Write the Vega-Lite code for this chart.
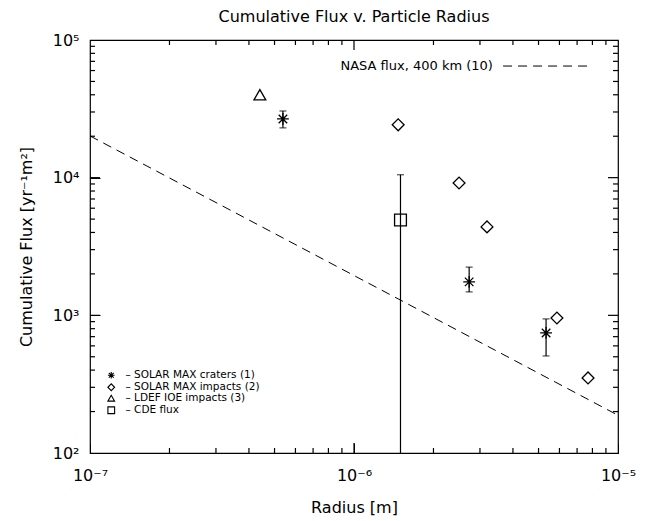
{
  "$schema": "https://vega.github.io/schema/vega-lite/v6.json",
  "width": 528,
  "height": 413,
  "autosize": {"type": "none"},
  "padding": {"left": 90, "top": 40, "right": 31, "bottom": 68},
  "background": "white",
  "title": {"text": "Cumulative Flux v. Particle Radius", "fontSize": 16, "fontWeight": "normal", "font": "DejaVu Sans", "anchor": "middle", "offset": 7, "color": "black"},
  "config": {
    "font": "DejaVu Sans",
    "view": {"stroke": "black", "strokeWidth": 1.2},
    "axis": {"domainColor": "black", "tickColor": "black", "labelColor": "black", "titleColor": "black", "grid": false, "domain": false}
  },
  "datasets": {
    "nasa": [
      {"x": 1e-7, "y": 20100},
      {"x": 1.5e-6, "y": 1290},
      {"x": 1e-5, "y": 188}
    ],
    "obs": [
      {"series": "SOLAR MAX craters (1)", "x": 5.38e-7, "y": 26700, "lo": 23000, "hi": 30500},
      {"series": "SOLAR MAX craters (1)", "x": 2.73e-6, "y": 1750, "lo": 1480, "hi": 2240},
      {"series": "SOLAR MAX craters (1)", "x": 5.34e-6, "y": 745, "lo": 507, "hi": 942},
      {"series": "SOLAR MAX impacts (2)", "x": 1.47e-6, "y": 24200},
      {"series": "SOLAR MAX impacts (2)", "x": 2.5e-6, "y": 9150},
      {"series": "SOLAR MAX impacts (2)", "x": 3.19e-6, "y": 4390},
      {"series": "SOLAR MAX impacts (2)", "x": 5.87e-6, "y": 957},
      {"series": "SOLAR MAX impacts (2)", "x": 7.7e-6, "y": 351},
      {"series": "LDEF IOE impacts (3)", "x": 4.4e-7, "y": 40000},
      {"series": "CDE flux", "x": 1.5e-6, "y": 4930, "lo": 100, "hi": 10500}
    ],
    "key": [
      {"label": "NASA flux, 400 km (10)", "x": 3.36e-6, "x2": 3.67e-6, "x3": 8.04e-6, "y": 64700}
    ],
    "xticks": [
      {"v": 2e-7, "kind": "minor", "lo": 100, "hi": 100000}, {"v": 3e-7, "kind": "minor", "lo": 100, "hi": 100000},
      {"v": 4e-7, "kind": "minor", "lo": 100, "hi": 100000}, {"v": 5e-7, "kind": "minor", "lo": 100, "hi": 100000},
      {"v": 6e-7, "kind": "minor", "lo": 100, "hi": 100000}, {"v": 7e-7, "kind": "minor", "lo": 100, "hi": 100000},
      {"v": 8e-7, "kind": "minor", "lo": 100, "hi": 100000}, {"v": 9e-7, "kind": "minor", "lo": 100, "hi": 100000},
      {"v": 1e-6, "kind": "major", "lo": 100, "hi": 100000},
      {"v": 2e-6, "kind": "minor", "lo": 100, "hi": 100000}, {"v": 3e-6, "kind": "minor", "lo": 100, "hi": 100000},
      {"v": 4e-6, "kind": "minor", "lo": 100, "hi": 100000}, {"v": 5e-6, "kind": "minor", "lo": 100, "hi": 100000},
      {"v": 6e-6, "kind": "minor", "lo": 100, "hi": 100000}, {"v": 7e-6, "kind": "minor", "lo": 100, "hi": 100000},
      {"v": 8e-6, "kind": "minor", "lo": 100, "hi": 100000}, {"v": 9e-6, "kind": "minor", "lo": 100, "hi": 100000}
    ],
    "yticks": [
      {"v": 200, "kind": "minor", "lo": 1e-7, "hi": 1e-5}, {"v": 300, "kind": "minor", "lo": 1e-7, "hi": 1e-5},
      {"v": 400, "kind": "minor", "lo": 1e-7, "hi": 1e-5}, {"v": 500, "kind": "minor", "lo": 1e-7, "hi": 1e-5},
      {"v": 600, "kind": "minor", "lo": 1e-7, "hi": 1e-5}, {"v": 700, "kind": "minor", "lo": 1e-7, "hi": 1e-5},
      {"v": 800, "kind": "minor", "lo": 1e-7, "hi": 1e-5}, {"v": 900, "kind": "minor", "lo": 1e-7, "hi": 1e-5},
      {"v": 1000, "kind": "major", "lo": 1e-7, "hi": 1e-5},
      {"v": 2000, "kind": "minor", "lo": 1e-7, "hi": 1e-5}, {"v": 3000, "kind": "minor", "lo": 1e-7, "hi": 1e-5},
      {"v": 4000, "kind": "minor", "lo": 1e-7, "hi": 1e-5}, {"v": 5000, "kind": "minor", "lo": 1e-7, "hi": 1e-5},
      {"v": 6000, "kind": "minor", "lo": 1e-7, "hi": 1e-5}, {"v": 7000, "kind": "minor", "lo": 1e-7, "hi": 1e-5},
      {"v": 8000, "kind": "minor", "lo": 1e-7, "hi": 1e-5}, {"v": 9000, "kind": "minor", "lo": 1e-7, "hi": 1e-5},
      {"v": 10000, "kind": "major", "lo": 1e-7, "hi": 1e-5},
      {"v": 20000, "kind": "minor", "lo": 1e-7, "hi": 1e-5}, {"v": 30000, "kind": "minor", "lo": 1e-7, "hi": 1e-5},
      {"v": 40000, "kind": "minor", "lo": 1e-7, "hi": 1e-5}, {"v": 50000, "kind": "minor", "lo": 1e-7, "hi": 1e-5},
      {"v": 60000, "kind": "minor", "lo": 1e-7, "hi": 1e-5}, {"v": 70000, "kind": "minor", "lo": 1e-7, "hi": 1e-5},
      {"v": 80000, "kind": "minor", "lo": 1e-7, "hi": 1e-5}, {"v": 90000, "kind": "minor", "lo": 1e-7, "hi": 1e-5}
    ]
  },
  "encoding": {
    "x": {"field": "x", "type": "quantitative", "scale": {"type": "log", "domain": [1e-7, 1e-5]}, "axis": null},
    "y": {"field": "y", "type": "quantitative", "scale": {"type": "log", "domain": [100, 100000]}, "axis": null}
  },
  "layer": [
    {
      "data": {"name": "nasa"},
      "mark": {"type": "line", "color": "black", "strokeWidth": 1, "strokeDash": [9, 6], "clip": true},
      "encoding": {
        "x": {"field": "x", "type": "quantitative", "scale": {"type": "log", "domain": [1e-7, 1e-5]},
          "axis": {"orient": "bottom", "title": "Radius [m]", "titleFontSize": 16, "titleFontWeight": "normal", "titlePadding": 16,
            "values": [1e-7, 1e-6, 1e-5], "offset": -10, "ticks": true, "tickSize": 10, "tickColor": "black",
            "labelExpr": "datum.value < 1.5e-7 ? '10⁻⁷' : (datum.value < 1.5e-6 ? '10⁻⁶' : '10⁻⁵')",
            "labelFontSize": 16, "labelPadding": 14, "labelOverlap": false, "labelFlush": false, "labelBound": false}},
        "y": {"field": "y", "type": "quantitative", "scale": {"type": "log", "domain": [100, 100000]},
          "axis": {"orient": "left", "title": "Cumulative Flux [yr⁻¹m²]", "titleFontSize": 16, "titleFontWeight": "normal", "titlePadding": 18,
            "values": [100, 1000, 10000, 100000], "offset": -10, "ticks": true, "tickSize": 10, "tickColor": "black",
            "labelExpr": "datum.value < 500 ? '10²' : (datum.value < 5000 ? '10³' : (datum.value < 50000 ? '10⁴' : '10⁵'))",
            "labelFontSize": 16, "labelPadding": 11, "labelOverlap": false, "labelFlush": false, "labelBound": false}}
      }
    },
    {
      "data": {"name": "obs"},
      "transform": [{"filter": "isValid(datum.lo)"}],
      "mark": {"type": "rule", "color": "black", "strokeWidth": 1.2},
      "encoding": {
        "y": {"field": "lo", "type": "quantitative", "axis": null},
        "y2": {"field": "hi"}
      }
    },
    {
      "data": {"name": "obs"},
      "transform": [{"filter": "isValid(datum.hi)"}],
      "mark": {"type": "tick", "orient": "horizontal", "color": "black", "size": 7, "thickness": 1.2},
      "encoding": {
        "y": {"field": "hi", "type": "quantitative", "axis": null}
      }
    },
    {
      "data": {"name": "obs"},
      "transform": [{"filter": "isValid(datum.lo) && datum.lo > 100"}],
      "mark": {"type": "tick", "orient": "horizontal", "color": "black", "size": 7, "thickness": 1.2},
      "encoding": {
        "y": {"field": "lo", "type": "quantitative", "axis": null}
      }
    },
    {
      "data": {"name": "obs"},
      "mark": {"type": "point", "filled": false, "color": "black", "strokeWidth": 1.3, "size": 140, "opacity": 1},
      "encoding": {
        "shape": {"field": "series", "type": "nominal",
          "scale": {"domain": ["SOLAR MAX craters (1)", "SOLAR MAX impacts (2)", "LDEF IOE impacts (3)", "CDE flux"],
            "range": ["M-1,0L1,0M0,-1L0,1M-0.72,-0.72L0.72,0.72M-0.72,0.72L0.72,-0.72", "diamond", "triangle-up", "square"]},
          "legend": {"orient": "none", "legendX": 16, "legendY": 330, "title": null, "padding": 0,
            "symbolSize": 45, "symbolStrokeColor": "black", "symbolStrokeWidth": 1.1, "symbolFillColor": "transparent",
            "labelFontSize": 10.5, "labelFont": "DejaVu Sans", "labelColor": "black", "labelOffset": 9, "rowPadding": 0,
            "labelExpr": "'–  ' + datum.label"}}
      }
    },
    {
      "data": {"name": "key"},
      "mark": {"type": "text", "align": "right", "baseline": "middle", "fontSize": 13, "font": "DejaVu Sans", "color": "black"},
      "encoding": {"text": {"field": "label"}}
    },
    {
      "data": {"name": "key"},
      "mark": {"type": "rule", "color": "black", "strokeWidth": 1, "strokeDash": [9, 6]},
      "encoding": {"x": {"field": "x2", "type": "quantitative", "axis": null}, "x2": {"field": "x3"}}
    },
    {
      "data": {"name": "xticks"},
      "transform": [{"filter": "datum.kind == 'major'"}],
      "mark": {"type": "rule", "color": "black", "strokeWidth": 1.2, "y2Offset": -10},
      "encoding": {"x": {"field": "v", "type": "quantitative", "axis": null}, "y": {"field": "lo", "type": "quantitative", "axis": null}, "y2": {"field": "lo"}}
    },
    {
      "data": {"name": "xticks"},
      "transform": [{"filter": "datum.kind == 'minor'"}],
      "mark": {"type": "rule", "color": "black", "strokeWidth": 1.2, "y2Offset": -5},
      "encoding": {"x": {"field": "v", "type": "quantitative", "axis": null}, "y": {"field": "lo", "type": "quantitative", "axis": null}, "y2": {"field": "lo"}}
    },
    {
      "data": {"name": "xticks"},
      "transform": [{"filter": "datum.kind == 'major'"}],
      "mark": {"type": "rule", "color": "black", "strokeWidth": 1.2, "y2Offset": 10},
      "encoding": {"x": {"field": "v", "type": "quantitative", "axis": null}, "y": {"field": "hi", "type": "quantitative", "axis": null}, "y2": {"field": "hi"}}
    },
    {
      "data": {"name": "xticks"},
      "transform": [{"filter": "datum.kind == 'minor'"}],
      "mark": {"type": "rule", "color": "black", "strokeWidth": 1.2, "y2Offset": 5},
      "encoding": {"x": {"field": "v", "type": "quantitative", "axis": null}, "y": {"field": "hi", "type": "quantitative", "axis": null}, "y2": {"field": "hi"}}
    },
    {
      "data": {"name": "yticks"},
      "transform": [{"filter": "datum.kind == 'major'"}],
      "mark": {"type": "rule", "color": "black", "strokeWidth": 1.2, "x2Offset": 10},
      "encoding": {"y": {"field": "v", "type": "quantitative", "axis": null}, "x": {"field": "lo", "type": "quantitative", "axis": null}, "x2": {"field": "lo"}}
    },
    {
      "data": {"name": "yticks"},
      "transform": [{"filter": "datum.kind == 'minor'"}],
      "mark": {"type": "rule", "color": "black", "strokeWidth": 1.2, "x2Offset": 5},
      "encoding": {"y": {"field": "v", "type": "quantitative", "axis": null}, "x": {"field": "lo", "type": "quantitative", "axis": null}, "x2": {"field": "lo"}}
    },
    {
      "data": {"name": "yticks"},
      "transform": [{"filter": "datum.kind == 'major'"}],
      "mark": {"type": "rule", "color": "black", "strokeWidth": 1.2, "x2Offset": -10},
      "encoding": {"y": {"field": "v", "type": "quantitative", "axis": null}, "x": {"field": "hi", "type": "quantitative", "axis": null}, "x2": {"field": "hi"}}
    },
    {
      "data": {"name": "yticks"},
      "transform": [{"filter": "datum.kind == 'minor'"}],
      "mark": {"type": "rule", "color": "black", "strokeWidth": 1.2, "x2Offset": -5},
      "encoding": {"y": {"field": "v", "type": "quantitative", "axis": null}, "x": {"field": "hi", "type": "quantitative", "axis": null}, "x2": {"field": "hi"}}
    }
  ],
  "resolve": {"axis": {"x": "independent", "y": "independent"}}
}
